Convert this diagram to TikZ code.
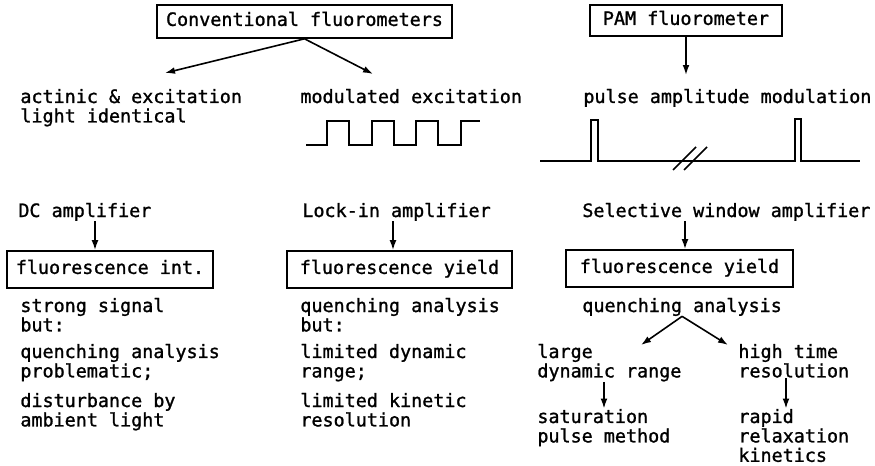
\documentclass[tikz,border=0pt]{standalone}
\usepackage{fontspec}
\setmonofont[FakeBold=1.2]{DejaVu Sans Mono}
\usetikzlibrary{arrows, arrows.meta, positioning}

\tikzset{
  txt/.style={anchor=base west, inner sep=0pt, align=left,
    font=\ttfamily\fontsize{9.2}{9.7}\selectfont},
  box/.style={draw, line width=0.8pt, inner sep=0pt, text height=6.4pt, text depth=2pt,
    font=\ttfamily\fontsize{9.2}{9.7}\selectfont},
  flow/.style={-{Latex[length=5pt,width=3.4pt]}, line width=0.8pt},
  wave/.style={line width=0.8pt}
}

\begin{document}
\begin{tikzpicture}[x=0.5pt, y=-0.5pt]
\useasboundingbox (0,0) rectangle (875,466);

% heads
\node[box, minimum width=147.5pt, minimum height=16.5pt] (conv) at (304.5,21.5) {Conventional fluorometers};
\node[box, minimum width=96pt, minimum height=15.5pt] (pam) at (686,20.5) {PAM fluorometer};

% kind of light (multi-line texts sit on their last baseline)
\node[txt] (actinic) at (20,122.4) {actinic \& excitation\\light identical};
\node[txt] (modul) at (300,103) {modulated excitation};
\node[txt] (pulse) at (583,103) {pulse amplitude modulation};

\coordinate (actin) at (165,73);
\coordinate (modin) at (373,74);
\coordinate (pulsein) at (686,75);
\draw[flow] (conv.south) -- (actin);
\draw[flow] (conv.south) -- (modin);
\draw[flow] (pam.south) -- (pulsein);

% modulated light
\draw[wave] (306,145) -| (327,121) -| (349,145) -| (372,121) -| (394,145)
  -| (416,121) -| (438,145) -| (461,121) -- (480,121);

% measuring pulses
\draw[wave] (540,161) -| (591,120) -| (598,161) -| (795,119) -| (801,161) -- (860,161);
\draw[wave] (673,170) -- (696,147);
\draw[wave] (684,170) -- (707,147);

% amplifiers
\node[txt] (dc) at (18,217) {DC amplifier};
\node[txt] (lockin) at (302,217) {Lock-in amplifier};
\node[txt] (selwin) at (582,217) {Selective window amplifier};

\node[box, minimum width=103pt, minimum height=18.5pt] (fint) at (110,269.5) {fluorescence int.};
\node[box, minimum width=112.5pt, minimum height=18.5pt] (fyield) at (399.5,269.5) {fluorescence yield};
\node[box, minimum width=113.5pt, minimum height=18.5pt] (fpam) at (679.5,268.5) {fluorescence yield};

\coordinate (dcx) at (95,0);
\coordinate (lockx) at (393,0);
\coordinate (selx) at (685,0);
\draw[flow] (dcx |- dc.south) -- (dcx |- fint.north);
\draw[flow] (lockx |- lockin.south) -- (lockx |- fyield.north);
\draw[flow] (selx |- selwin.south) -- (selx |- fpam.north);

% properties
\node[txt] (strong) at (20,331.4) {strong signal\\but:};
\node[txt] (problem) at (20,377.4) {quenching analysis\\problematic;};
\node[txt] (ambient) at (20,426.4) {disturbance by\\ambient light};

\node[txt] (quenb) at (300,331.4) {quenching analysis\\but:};
\node[txt] (range) at (300,377.4) {limited dynamic\\range;};
\node[txt] (kinres) at (300,426.4) {limited kinetic\\resolution};

\node[txt] (quenc) at (582,312) {quenching analysis};
\node[txt] (large) at (537,377.4) {large\\dynamic range};
\node[txt] (hightime) at (738,377.4) {high time\\resolution};
\node[txt] (satpulse) at (537,442.4) {saturation\\pulse method};
\node[txt] (rapid) at (738,461.8) {rapid\\relaxation\\kinetics};

\coordinate (largein) at (641,345);
\coordinate (highin) at (728,345);
\draw[flow] (quenc.south) -- (largein);
\draw[flow] (quenc.south) -- (highin);

\coordinate (satx) at (604,0);
\coordinate (rapx) at (786,0);
\draw[flow] (satx |- large.south) -- (satx |- satpulse.north);
\draw[flow] (rapx |- hightime.south) -- (rapx |- rapid.north);
\end{tikzpicture}
\end{document}
